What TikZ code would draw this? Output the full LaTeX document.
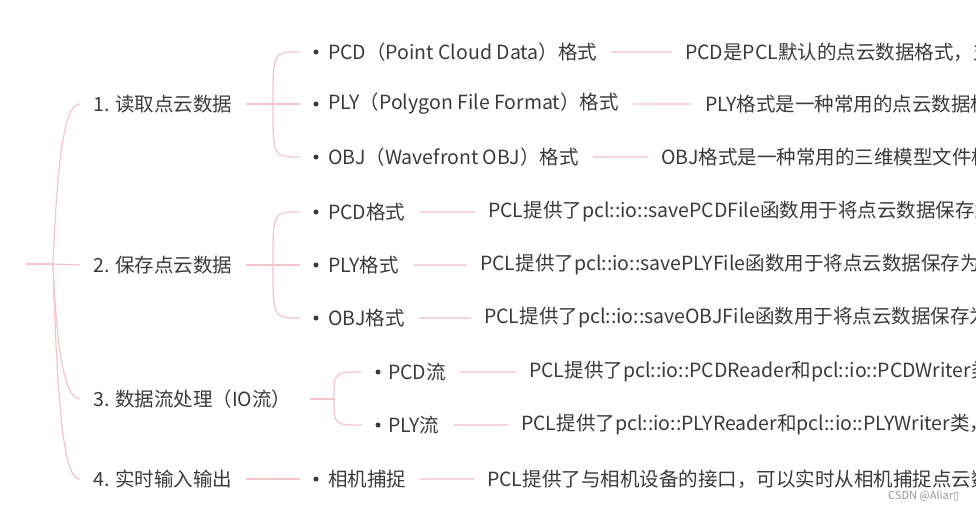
\documentclass[tikz,border=0pt]{standalone}
\usepackage{fontspec}
\setmainfont{Noto Sans CJK SC}
\newfontfamily\symfont{DejaVu Sans}
\definecolor{txt}{RGB}{58,58,58}
\definecolor{pinkline}{RGB}{244,196,202}
\definecolor{pinklight}{RGB}{246,214,218}
\definecolor{wmgray}{RGB}{150,150,150}
\begin{document}
\begin{tikzpicture}[x=1pt,y=-1pt,
  lbl/.style={anchor=west,inner sep=0pt,text=txt,font=\fontsize{19.5}{23}\selectfont},
  conn/.style={draw=pinkline,line width=1.2pt},
  connlight/.style={draw=pinklight,line width=1.2pt},
  dot/.style={circle,fill=txt,draw=none,inner sep=0pt,minimum size=5pt}
]
\useasboundingbox (0,0) rectangle (976,511);
\clip (0,0) rectangle (976,511);

% root
\coordinate (root) at (26,264);
\coordinate (j0) at (53,264);

% level 1
\node[lbl] (a1) at (93,104) {1. 读取点云数据};
\node[lbl] (a2) at (93,265) {2. 保存点云数据};
\node[lbl] (a3) at (93,399) {3. 数据流处理（IO流）};
\node[lbl] (a4) at (93,479) {4. 实时输入输出};

\draw[conn] (root) -- (j0);
\draw[conn] (j0) .. controls +(5,-120) and +(-14,0) .. ([xshift=-13pt]a1.west);
\draw[conn] (j0) -- ([xshift=-13pt]a2.west);
\draw[conn] (j0) .. controls +(4,95) and +(-14,0) .. ([xshift=-13pt]a3.west);
\draw[conn] (j0) .. controls +(5,170) and +(-14,0) .. ([xshift=-13pt]a4.west);

% junctions
\coordinate (j1) at (273,104);
\coordinate (j2) at (273,265);
\coordinate (j3) at (334,399);

% level 2 bullets
\node[dot] (d11) at (316,52) {};
\node[dot] (d12) at (316,104) {};
\node[dot] (d13) at (316,157) {};
\node[dot] (d21) at (316,212) {};
\node[dot] (d22) at (316,265) {};
\node[dot] (d23) at (316,318) {};
\node[dot] (d31) at (378,372) {};
\node[dot] (d32) at (378,425) {};
\node[dot] (d41) at (316,479) {};

% level 2 texts
\node[lbl] (b11) at (328,52) {PCD（Point Cloud Data）格式};
\node[lbl] (b12) at (328,104) {PLY（Polygon File Format）格式};
\node[lbl] (b13) at (328,157) {OBJ（Wavefront OBJ）格式};
\node[lbl] (b21) at (328,212) {PCD格式};
\node[lbl] (b22) at (328,265) {PLY格式};
\node[lbl] (b23) at (328,318) {OBJ格式};
\node[lbl] (b31) at (388,372) {PCD流};
\node[lbl] (b32) at (388,425) {PLY流};
\node[lbl] (b41) at (328,479) {相机捕捉};

% level1 -> level2 connectors
\draw[conn] ([xshift=14pt]a1.east) -- (j1) -- ([xshift=-16pt]d12.center);
\draw[conn] (j1) .. controls +(0,-52) .. ([xshift=-16pt]d11.center);
\draw[conn] (j1) .. controls +(0,53) .. ([xshift=-16pt]d13.center);

\draw[conn] ([xshift=14pt]a2.east) -- (j2) -- ([xshift=-16pt]d22.center);
\draw[conn] (j2) .. controls +(0,-53) .. ([xshift=-16pt]d21.center);
\draw[conn] (j2) .. controls +(0,53) .. ([xshift=-16pt]d23.center);

\draw[conn] ([xshift=18pt]a3.east) -- (j3);
\draw[conn] (j3) .. controls +(0,-27) .. ([xshift=-16pt]d31.center);
\draw[conn] (j3) .. controls +(0,26) .. ([xshift=-16pt]d32.center);

\draw[conn] ([xshift=14pt]a4.east) -- ([xshift=-16pt]d41.center);

% level 3 texts
\node[lbl] (c11) at (685,52) {PCD是PCL默认的点云数据格式，支持};
\node[lbl] (c12) at (705,104) {PLY格式是一种常用的点云数据格式};
\node[lbl] (c13) at (661,157) {OBJ格式是一种常用的三维模型文件格式};
\node[lbl] (c21) at (488,212) {PCL提供了pcl::io::savePCDFile函数用于将点云数据保存为};
\node[lbl] (c22) at (480,265) {PCL提供了pcl::io::savePLYFile函数用于将点云数据保存为};
\node[lbl] (c23) at (484,318) {PCL提供了pcl::io::saveOBJFile函数用于将点云数据保存为};
\node[lbl] (c31) at (529,372) {PCL提供了pcl::io::PCDReader和pcl::io::PCDWriter类};
\node[lbl] (c32) at (521,425) {PCL提供了pcl::io::PLYReader和pcl::io::PLYWriter类，};
\node[lbl] (c41) at (487,479) {PCL提供了与相机设备的接口，可以实时从相机捕捉点云数据};

% level2 -> level3 connectors
\foreach \p/\q in {b11/c11,b12/c12,b13/c13,b21/c21,b22/c22,b23/c23,b31/c31,b32/c32,b41/c41}
  \draw[connlight] ([xshift=14pt]\p.east) -- ([xshift=-13pt]\q.west);

% watermark
\node[anchor=west,inner sep=0pt,text=wmgray,font=\fontsize{11}{13}\selectfont] (wm) at (888,496) {CSDN @Aliar{\symfont ▯}};
\end{tikzpicture}
\end{document}
